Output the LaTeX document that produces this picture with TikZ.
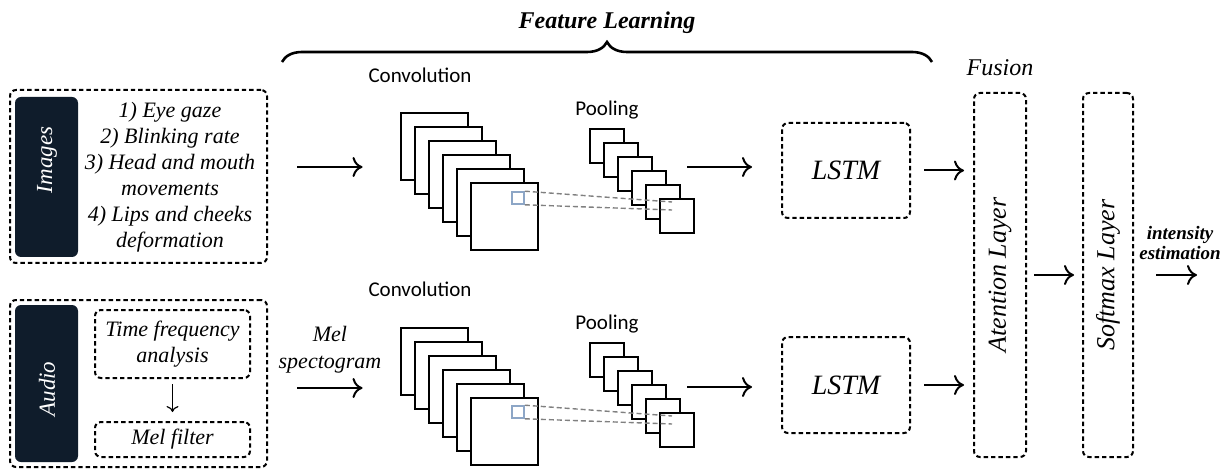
\documentclass[tikz,border=0pt]{standalone}
\usepackage{fontspec}
\setmainfont{Liberation Serif}
\newfontfamily\calfont{Carlito}
\usetikzlibrary{decorations.pathreplacing,fit,arrows.meta}

\definecolor{tagdark}{HTML}{0F1C2B}
\definecolor{kernblue}{HTML}{8DA6C6}

\begin{document}
\begin{tikzpicture} [
				x=0.5pt,y=-0.5pt,
				dbox/.style={draw,dash pattern=on 2.2pt off 1.5pt,line width=1pt,rounded corners=3pt,inner sep=0pt},
				tag/.style={fill=tagdark,rounded corners=3pt,inner sep=0pt},
				fmap/.style={draw,fill=white,line width=1pt,inner sep=0pt},
				kline/.style={draw=gray,dash pattern=on 2.5pt off 1.5pt,line width=0.7pt},
				arr/.style={-{To[length=5pt,width=10pt]},line width=1pt},
				thinarr/.style={-{To[length=3pt,width=6pt]},line width=0.6pt},
				lbl/.style={font=\fontsize{11}{13}\selectfont\itshape,align=center},
				captxt/.style={font=\fontsize{10.5}{12}\calfont}
			]
			\useasboundingbox (0,0) rectangle (1220,470);
			\node[dbox,fit={(10,90) (267,263)}] (imgbox) {};
			\node[tag,fit={(15,97) (78,257)}] (imgtag) {};
			\node[lbl,text=white,rotate=90,font=\fontsize{11.5}{13}\selectfont\itshape] (imgname) at (47,160) {Images};
			\node[lbl] (imgcues) at (170,177) {1) Eye gaze\\2) Blinking rate\\3) Head and mouth\\movements\\4) Lips and cheeks\\deformation};
			\node[dbox,fit={(10,300) (267,467)}] (audbox) {};
			\node[tag,fit={(15,305) (78,462)}] (audtag) {};
			\node[lbl,text=white,rotate=90,font=\fontsize{11.5}{13}\selectfont\itshape] (audname) at (47,389) {Audio};
			\node[dbox,fit={(95,310) (250,378)}] (tfbox) {};
			\node[lbl] (tftxt) at (tfbox.center) {Time frequency\\analysis};
			\node[dbox,fit={(95,422) (250,457)}] (melbox) {};
			\node[lbl] (meltxt) at (melbox.center) {Mel filter};
			\draw[thinarr,shorten <=2.5pt,shorten >=4.5pt] (tfbox) -- (melbox);
			\node[font=\fontsize{12}{14}\selectfont\bfseries\itshape] (featlbl) at (607,23) {Feature Learning};
			\draw[decorate,decoration={brace,amplitude=10pt},line width=1.3pt] (282,62) -- (932,62);
			\foreach \r/\dy in {a/0,b/214} {
				\node[captxt] (conv\r) at (420,75+\dy) {Convolution};
				\foreach \i in {0,...,5}
					\node[fmap,minimum size=33.5pt] (c\r\i) at (434+14*\i,147+\dy+14*\i) {};
				\node[draw=kernblue,line width=0.8pt,minimum size=6pt,inner sep=0pt] (k\r) at (518,198+\dy) {};
				\node[captxt] (pool\r) at (607,110+\dy) {Pooling};
				\foreach \i in {0,...,5}
					\node[fmap,minimum size=17pt] (p\r\i) at (607+14*\i,146+\dy+14*\i) {};
				\coordinate (u\r) at ([shift={(-5,-14)}]p\r5.center);
				\coordinate (v\r) at ([shift={(-5,-6)}]p\r5.center);
				\draw[kline] (k\r.north east) -- (u\r);
				\draw[kline] (k\r.south east) -- (v\r);
			}
			\node[lbl,font=\fontsize{11}{13.5}\selectfont\itshape] (mellbl) at (330,350) {Mel\\spectogram};
			\coordinate (ina) at (297,167);
			\coordinate (inb) at (297,388);
			\draw[arr,shorten >=18.5pt] (ina) -- (ina -| ca0.west);
			\draw[arr,shorten >=18.5pt] (inb) -- (inb -| cb0.west);
			\node[dbox,fit={(782,123) (910,218)}] (lstma) {};
			\node[font=\fontsize{14}{16}\selectfont\itshape] (lstmatxt) at (lstma.center) {LSTM};
			\node[dbox,fit={(782,337) (910,433)}] (lstmb) {};
			\node[font=\fontsize{14}{16}\selectfont\itshape] (lstmbtxt) at (lstmb.center) {LSTM};
			\coordinate (outa) at (687,167);
			\coordinate (outb) at (687,387);
			\draw[arr,shorten >=14.5pt] (outa) -- (outa -| lstma.west);
			\draw[arr,shorten >=14.5pt] (outb) -- (outb -| lstmb.west);
			\node[font=\fontsize{12}{14}\selectfont\itshape] (fuslbl) at (1000,68) {Fusion};
			\node[dbox,fit={(974,93) (1026,457)}] (att) {};
			\node[font=\fontsize{13}{15}\selectfont\itshape,rotate=90] (attname) at (att.center) {Atention Layer};
			\node[dbox,fit={(1083,93) (1133,457)}] (soft) {};
			\node[font=\fontsize{13}{15}\selectfont\itshape,rotate=90] (softname) at (soft.center) {Softmax Layer};
			\draw[arr,shorten <=6.5pt,shorten >=4.5pt] (lstma) -- (lstma -| att.west);
			\draw[arr,shorten <=6.5pt,shorten >=4.5pt] (lstmb) -- (lstmb -| att.west);
			\draw[arr,shorten <=3.5pt,shorten >=4pt] (att) -- (soft);
			\coordinate (final) at (1197,275);
			\draw[arr,shorten <=11pt] (soft) -- (final);
			\node[font=\fontsize{9.5}{10}\selectfont\bfseries\itshape,align=center] (outlbl) at (1180,243) {intensity\\estimation};
		\end{tikzpicture}
\end{document}
